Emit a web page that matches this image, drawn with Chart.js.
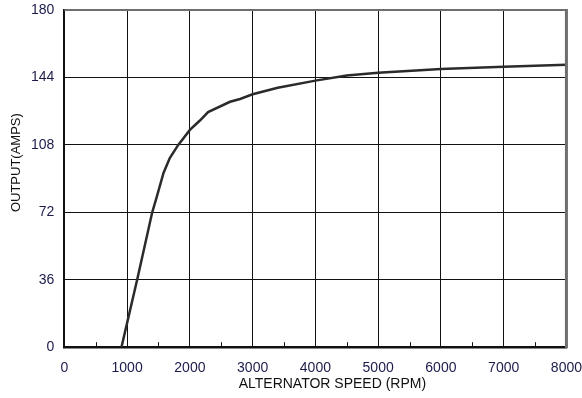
<!DOCTYPE html>
<html>
<head>
<meta charset="utf-8">
<script src="https://cdn.jsdelivr.net/npm/chart.js@4"></script>
<style>
  html, body { margin: 0; padding: 0; background: #fff; overflow: hidden; }
  #wrap { width: 582px; height: 398px; position: relative; }
  #grafico { display: block; }
</style>
</head>
<body>
<div id="wrap"><canvas id="grafico"></canvas></div>
<script>
// Rotação do alternador (RPM) e corrente de saída (A)
const rotacao = [910, 1000, 1160, 1400, 1470, 1580, 1680, 1815, 2000, 2160, 2290, 2640, 2800, 3000, 3400, 4000, 4500, 5000, 6000, 7000, 8000];
const corrente = [0, 13, 36, 72, 80, 93, 101, 108, 116, 121, 125.5, 131, 132.5, 135, 138.5, 142.3, 145, 146.5, 148.5, 149.7, 150.8];

const ticksX = [0, 1000, 2000, 3000, 4000, 5000, 6000, 7000, 8000];
const ticksY = [0, 36, 72, 108, 144, 180];
const ticksMenores = [500, 1500, 2500, 3500, 4500, 5500, 6500, 7500];

const tituloX = "ALTERNATOR SPEED (RPM)";
const tituloY = "OUTPUT(AMPS)";

const corTexto = "#1b1b4b";
const fonte = "'Liberation Sans', Arial, sans-serif";

// moldura cinza, tracinhos menores e títulos dos eixos
const moldura = {
    id: "moldura",
    afterDatasetsDraw(chart) {
        const { ctx, chartArea: a, scales } = chart;
        ctx.save();
        ctx.strokeStyle = "#6e6e6e";
        ctx.lineWidth = 2;
        ctx.beginPath();
        ctx.moveTo(a.left, a.top);
        ctx.lineTo(a.right, a.top);
        ctx.stroke();
        ctx.lineWidth = 3;
        ctx.beginPath();
        ctx.moveTo(a.right, a.top - 1);
        ctx.lineTo(a.right, a.bottom + 1);
        ctx.stroke();

        ctx.strokeStyle = "#111";
        ctx.lineWidth = 1;
        ticksMenores.forEach(v => {
            const x = Math.round(scales.x.getPixelForValue(v)) + 0.5;
            ctx.beginPath();
            ctx.moveTo(x, a.bottom);
            ctx.lineTo(x, a.bottom - 5);
            ctx.stroke();
        });

        ctx.fillStyle = "#111";
        ctx.font = "14px " + fonte;
        ctx.textAlign = "center";
        ctx.textBaseline = "alphabetic";
        ctx.fillText(tituloX, (a.left + a.right) / 2 + 17, a.bottom + 41);

        ctx.font = "13px " + fonte;
        ctx.translate(20, (a.top + a.bottom) / 2 - 16);
        ctx.rotate(-Math.PI / 2);
        ctx.fillText(tituloY, 0, 0);
        ctx.restore();
    }
};

new Chart(document.getElementById("grafico"), {
    type: "scatter",
    data: {
        datasets: [{
            data: rotacao.map((r, i) => ({ x: r, y: corrente[i] })),
            showLine: true,
            borderColor: "#2b2b2b",
            borderWidth: 2.5,
            pointRadius: 0,
            tension: 0
        }]
    },
    options: {
        responsive: true,
        maintainAspectRatio: false,
        animation: false,
        layout: { padding: { top: 10, right: 0, left: 31, bottom: 21 } },
        plugins: { legend: { display: false }, tooltip: { enabled: false } },
        scales: {
            x: {
                type: "linear",
                min: 0,
                max: 8000,
                afterBuildTicks: s => { s.ticks = ticksX.map(v => ({ value: v })); },
                grid: { color: "#111", lineWidth: 1, drawTicks: true, tickLength: 13, tickColor: "rgba(0,0,0,0)" },
                border: { color: "#111", width: 2.5 },
                ticks: {
                    color: corTexto,
                    font: { family: fonte, size: 14 },
                    padding: 0,
                    maxRotation: 0,
                    callback: v => String(v)
                }
            },
            y: {
                min: 0,
                max: 180,
                afterBuildTicks: s => { s.ticks = ticksY.map(v => ({ value: v })); },
                grid: { color: "#111", lineWidth: 1, drawTicks: true, tickLength: 10, tickColor: "rgba(0,0,0,0)" },
                border: { color: "#111", width: 2 },
                ticks: {
                    color: corTexto,
                    font: { family: fonte, size: 14 },
                    padding: 0,
                    callback: v => String(v)
                }
            }
        }
    },
    plugins: [moldura]
});
</script>
</body>
</html>
